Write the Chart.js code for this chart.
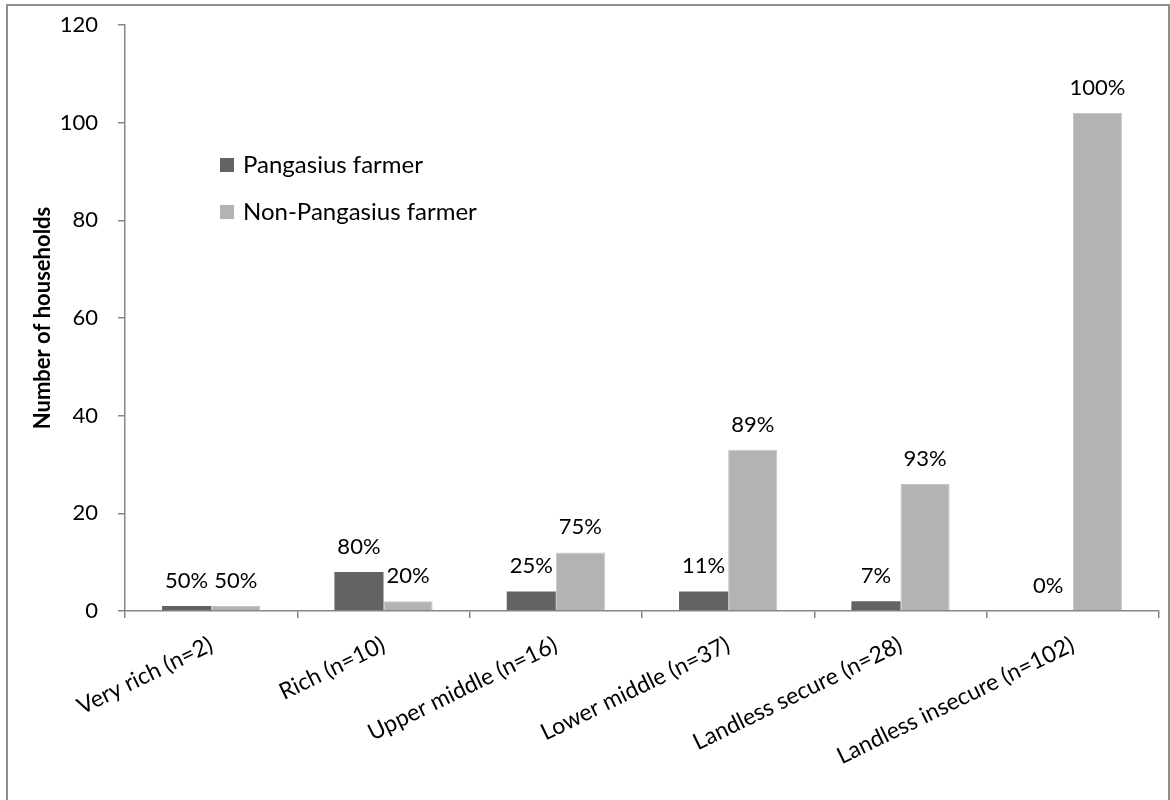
<!DOCTYPE html>
<html>
<head>
<meta charset="utf-8">
<script src="https://cdn.jsdelivr.net/npm/chart.js@4/dist/chart.umd.min.js"></script>
<style>
body{margin:0;background:#fff;}
#wrap{position:relative;width:1170px;height:800px;overflow:hidden;}
#marco{position:absolute;left:6px;top:4px;width:1160px;height:820px;border:2px solid #8e8e8e;}
#grafico{position:absolute;left:0;top:0;}
</style>
</head>
<body>
<div id="wrap">
<div id="marco"></div>
<canvas id="grafico" width="1170" height="800"></canvas>
</div>
<script>
//=====================================================
// DATOS
//=====================================================

const categorias=["Very rich (n=2)","Rich (n=10)","Upper middle (n=16)","Lower middle (n=37)","Landless secure (n=28)","Landless insecure (n=102)"];

const pangasius=[1,8,4,4,2,0];
const noPangasius=[1,2,12,33,26,102];

const pctPangasius=["50%","80%","25%","11%","7%","0%"];
const pctNoPangasius=["50%","20%","75%","89%","93%","100%"];

const ticksY=[0,20,40,60,80,100,120];

//=====================================================
// COLORES
//=====================================================

const oscuro="#636363";
const claro="#b3b3b3";
const ejes="#868686";
const fuente="Lato";

Chart.defaults.font.family=fuente;
Chart.defaults.font.size=20;
Chart.defaults.color="#000";

//=====================================================
// PLUGIN: etiquetas y leyenda
//=====================================================

const extras={
id:"extras",
afterDatasetsDraw(chart){
const ctx=chart.ctx;
const pcts=[pctPangasius,pctNoPangasius];
ctx.save();
ctx.font="22px "+fuente;
ctx.fillStyle="#000";
ctx.textAlign="center";
ctx.textBaseline="alphabetic";
chart.data.datasets.forEach((ds,i)=>{
chart.getDatasetMeta(i).data.forEach((bar,j)=>{
ctx.fillText(pcts[i][j],bar.x,bar.y-18);
});
});

// leyenda
ctx.font="24px "+fuente;
ctx.textAlign="left";
ctx.textBaseline="middle";
const ly=[165,212];
chart.data.datasets.forEach((ds,i)=>{
ctx.fillStyle=ds.backgroundColor;
ctx.fillRect(220,ly[i]-7,14,14);
ctx.fillStyle="#000";
ctx.fillText(ds.label,243,ly[i]);
});
ctx.restore();
}
};

//=====================================================
// GRAFICO
//=====================================================

new Chart(document.getElementById("grafico"),{

type:"bar",

data:{
labels:categorias,
datasets:[
{
label:"Pangasius farmer",
data:pangasius,
backgroundColor:oscuro
},
{
label:"Non-Pangasius farmer",
data:noPangasius,
backgroundColor:claro,
borderColor:"#c4c4c4",
borderWidth:1
}
]
},

options:{
responsive:false,
animation:false,
events:[],
categoryPercentage:0.57,
barPercentage:1,
layout:{padding:{top:25,right:11,left:0,bottom:0}},
plugins:{
legend:{display:false},
tooltip:{enabled:false}
},
scales:{
x:{
afterFit(s){s.height=189;},
grid:{offset:true,drawOnChartArea:false,color:ejes,tickLength:7,lineWidth:1.5},
border:{color:ejes,width:1.5},
ticks:{autoSkip:false,minRotation:26,maxRotation:26,padding:13,color:"#000",font:{size:23}}
},
y:{
min:0,
max:120,
afterFit(s){s.width=125;s.paddingTop=0;s.paddingBottom=0;},
afterBuildTicks(s){s.ticks=ticksY.map(v=>({value:v}));},
grid:{drawOnChartArea:false,color:ejes,tickLength:7,lineWidth:1.5},
border:{color:ejes,width:1.5},
ticks:{padding:20,color:"#000",font:{size:22}},
title:{
display:true,
text:"Number of households",
color:"#000",
font:{size:22,weight:"bold"},
padding:{top:30,bottom:0}
}
}
}
},

plugins:[extras]

});
</script>
</body>
</html>
